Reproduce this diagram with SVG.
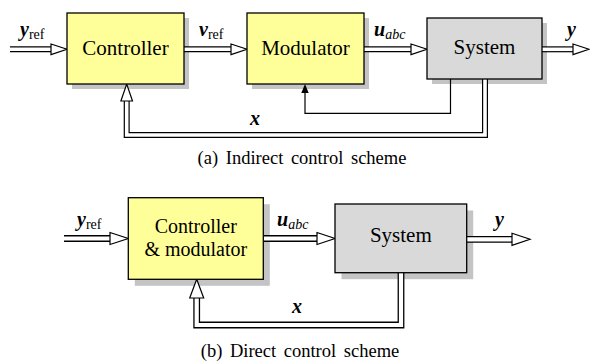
<svg xmlns="http://www.w3.org/2000/svg" width="590" height="361" viewBox="0 0 590 361">
<style>
  .shadow { fill: #c4c4c4; }
  .yel { fill: #ffff99; stroke: #000; stroke-width: 1.3; }
  .gry { fill: #d9d9d9; stroke: #000; stroke-width: 1.3; }
  .txt { font-family: "Liberation Serif", "DejaVu Serif", serif; font-size: 21px; fill: #000; }
  .txt2 { font-family: "Liberation Serif", "DejaVu Serif", serif; font-size: 20px; fill: #000; }
  .m { font-family: "Liberation Serif", "DejaVu Serif", serif; font-style: italic; font-weight: bold; font-size: 20px; fill: #000; }
  .sub { font-family: "Liberation Serif", "DejaVu Serif", serif; font-style: normal; font-weight: normal; font-size: 14px; }
  .subi { font-family: "Liberation Serif", "DejaVu Serif", serif; font-style: italic; font-weight: normal; font-size: 14px; }
  .cap { font-family: "Liberation Serif", "DejaVu Serif", serif; font-size: 18.5px; fill: #000; }
  .o1 { fill: none; stroke: #000; stroke-width: 6; stroke-linejoin: miter; }
  .i1 { fill: none; stroke: #fff; stroke-width: 3.6; stroke-linejoin: miter; }
  .o2 { fill: none; stroke: #000; stroke-width: 6.8; stroke-linejoin: miter; }
  .i2 { fill: none; stroke: #fff; stroke-width: 4.2; stroke-linejoin: miter; }
  .head { fill: #fff; stroke: #000; stroke-width: 1.2; stroke-linejoin: miter; }
  .thin { fill: none; stroke: #000; stroke-width: 1.2; }
</style>

<!-- ============ (a) Indirect control scheme ============ -->
<g id="shadows-a">
  <rect class="shadow" x="72" y="18" width="117" height="71"/>
  <rect class="shadow" x="252" y="18" width="117" height="71"/>
  <rect class="shadow" x="432" y="23" width="115" height="61"/>
</g>

<g id="connectors-a">
  <path class="o1" d="M10,49.3 H51"/>
  <path class="i1" d="M10,49.3 H51"/>
  <polygon class="head" points="51,44 67,49.3 51,54.6"/>
  <path class="o1" d="M184,49.3 H231"/>
  <path class="i1" d="M183,49.3 H231"/>
  <polygon class="head" points="231,44 247,49.3 231,54.6"/>
  <path class="o1" d="M364,49.3 H411"/>
  <path class="i1" d="M363,49.3 H411"/>
  <polygon class="head" points="411,44 427,49.3 411,54.6"/>
  <path class="o1" d="M542,49.3 H573"/>
  <path class="i1" d="M541,49.3 H573"/>
  <polygon class="head" points="573,44 589,49.3 573,54.6"/>
  <path class="thin" d="M450.5,79 V113.3 H305 V92"/>
  <polygon points="301.3,93 305,84 308.7,93" fill="#000"/>
  <path class="o1" d="M485,78 V135 H126.7 V101"/>
  <path class="i1" d="M485,78 V135 H126.7 V101"/>
  <polygon class="head" points="120.9,101 126.7,84 132.5,101"/>
</g>

<g id="controller-a">
  <rect class="yel" x="67" y="13" width="117" height="71"/>
  <text class="txt" x="125.5" y="55" text-anchor="middle">Controller</text>
</g>
<g id="modulator-a">
  <rect class="yel" x="247" y="13" width="117" height="71"/>
  <text class="txt" x="305.5" y="55" text-anchor="middle">Modulator</text>
</g>
<g id="system-a">
  <rect class="gry" x="427" y="18" width="115" height="61"/>
  <text class="txt" x="484.5" y="54" text-anchor="middle">System</text>
</g>

<g id="labels-a">
  <text class="m" x="20" y="36">y<tspan class="sub" dy="3">ref</tspan></text>
  <text class="m" x="199" y="36">v<tspan class="sub" dy="3">ref</tspan></text>
  <text class="m" x="374" y="36">u<tspan class="subi" dy="3">abc</tspan></text>
  <text class="m" x="567" y="36">y</text>
  <text class="m" x="250" y="125">x</text>
</g>

<text class="cap" x="302" y="164" text-anchor="middle" word-spacing="3">(a) Indirect control scheme</text>

<!-- ============ (b) Direct control scheme ============ -->
<g id="shadows-b">
  <rect class="shadow" x="134.8" y="204.2" width="135" height="81.6"/>
  <rect class="shadow" x="341.5" y="210.5" width="131.7" height="68.7"/>
</g>

<g id="connectors-b">
  <path class="o2" d="M64,238.5 H110"/>
  <path class="i2" d="M64,238.5 H110"/>
  <polygon class="head" points="110,232.5 128.3,238.5 110,244.5"/>
  <path class="o2" d="M263.3,238.5 H317"/>
  <path class="i2" d="M262.3,238.5 H317"/>
  <polygon class="head" points="317,232.5 335,238.5 317,244.5"/>
  <path class="o2" d="M466.7,239.3 H512"/>
  <path class="i2" d="M465.7,239.3 H512"/>
  <polygon class="head" points="512,233.3 530,239.3 512,245.3"/>
  <path class="o2" d="M401,272 V325 H196.7 V298"/>
  <path class="i2" d="M401,272 V325 H196.7 V298"/>
  <polygon class="head" points="189.7,298 196.7,279.3 203.7,298"/>
</g>

<g id="ctrlmod-b">
  <rect class="yel" x="128.3" y="197.7" width="135" height="81.6"/>
  <text class="txt2" x="195.8" y="232.5" text-anchor="middle">Controller</text>
  <text class="txt2" x="195.8" y="255.5" text-anchor="middle">&amp; modulator</text>
</g>
<g id="system-b">
  <rect class="gry" x="335" y="204" width="131.7" height="68.7"/>
  <text class="txt" x="400.8" y="242" text-anchor="middle">System</text>
</g>

<g id="labels-b">
  <text class="m" x="77" y="226">y<tspan class="sub" dy="3">ref</tspan></text>
  <text class="m" x="277" y="226">u<tspan class="subi" dy="3">abc</tspan></text>
  <text class="m" x="495" y="226">y</text>
  <text class="m" x="292" y="313">x</text>
</g>

<text class="cap" x="300" y="357" text-anchor="middle" word-spacing="3">(b) Direct control scheme</text>
</svg>
